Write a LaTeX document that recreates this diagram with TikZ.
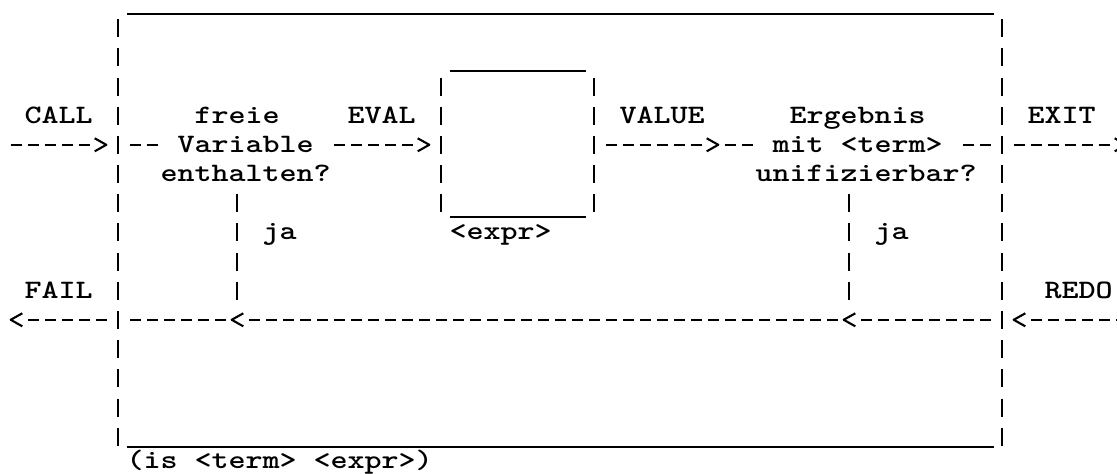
\documentclass[tikz,border=0pt]{standalone}
\usepackage{graphicx}
\usetikzlibrary{arrows.meta}

% Typewriter-style chevron tip; the shaft stops at the back of the tip
\pgfdeclarearrow{
  name = Chevron,
  parameters = {\the\pgfarrowlength,\the\pgfarrowwidth},
  setup code = {
    \pgfarrowssettipend{0pt}
    \pgfarrowssetlineend{-\pgfarrowlength}
    \pgfarrowssetbackend{-\pgfarrowlength}
    \pgfarrowshullpoint{0pt}{0pt}
    \pgfarrowsupperhullpoint{-\pgfarrowlength}{.5\pgfarrowwidth}
    \pgfarrowssavethe\pgfarrowlength
    \pgfarrowssavethe\pgfarrowwidth
  },
  drawing code = {
    \pgfsetdash{}{0pt}
    \pgfsetroundjoin
    \pgfsetbuttcap
    \pgfpathmoveto{\pgfqpoint{-\pgfarrowlength}{.5\pgfarrowwidth}}
    \pgfpathlineto{\pgfqpoint{0pt}{0pt}}
    \pgfpathlineto{\pgfqpoint{-\pgfarrowlength}{-.5\pgfarrowwidth}}
    \pgfusepathqstroke
  },
  defaults = {length = 11.6pt, width = 13pt}
}

% Monospaced text on a fixed 17pt character pitch
\newcommand\cellfont{\fontsize{26.6pt}{29pt}\selectfont\ttfamily\bfseries}
\ExplSyntaxOn
\NewDocumentCommand \tw { m }
  { \str_map_inline:nn {#1}
      { \hbox_to_wd:nn {17pt} { \hss \scalebox{1.22}[1]{##1} \hss } } }
\ExplSyntaxOff

\tikzset{
  ink/.style={line width=2.1pt, black},
  vdash/.style={ink, dash pattern=on 18pt off 11.17pt},
  hdash/.style={ink, dash pattern=on 11pt off 6pt},
  uline/.style={ink, line width=2pt},
  lbl/.style={anchor=base west, inner sep=0pt, font=\cellfont},
}

\begin{document}
\begin{tikzpicture}[x=1pt,y=-1pt]
  \fill[white] (0,0) rectangle (1117,474);
  \useasboundingbox (0,0) rectangle (1117,474);

  % ---- labels ----
  \node[lbl] (call)  at (24.5,123.3)   {\tw{CALL}};
  \node[lbl] (da)    at (194.5,123.3)  {\tw{freie}};
  \node[lbl] (eval)  at (347.5,123.3)  {\tw{EVAL}};
  \node[lbl] (value) at (619.5,123.3)  {\tw{VALUE}};
  \node[lbl] (ua)    at (789.5,123.3)  {\tw{Ergebnis}};
  \node[lbl] (exit)  at (1027.5,123.3) {\tw{EXIT}};
  \node[lbl] (db)    at (177.5,152.47) {\tw{Variable}};
  \node[lbl] (ub)    at (772.5,152.47) {\tw{mit <term>}};
  \node[lbl] (dc)    at (160.5,181.64) {\tw{enthalten?}};
  \node[lbl] (uc)    at (755.5,181.64) {\tw{unifizierbar?}};
  \node[lbl] (jaL)   at (262.5,239.98) {\tw{ja}};
  \node[lbl] (expr)  at (449.5,239.98) {\tw{<expr>}};
  \node[lbl] (jaR)   at (874.5,239.98) {\tw{ja}};
  \node[lbl] (fail)  at (24.5,298.32)  {\tw{FAIL}};
  \node[lbl] (redo)  at (1044.5,298.32) {\tw{REDO}};
  \node[lbl] (title) at (126.5,468)    {\tw{(is <term> <expr>)}};

  % ---- outer box ----
  \draw[uline] (126.5,13.5) -- (993.5,13.5);
  \draw[uline] (126.5,446.7) -- (993.5,446.7);
  \draw[vdash] (118,19.3) -- (118,445.7);
  \draw[vdash] (1002,19.3) -- (1002,445.7);

  % ---- inner box (evaluation of <expr>) ----
  \draw[uline] (449.5,71) -- (585.5,71);
  \draw[uline] (449.5,216.8) -- (585.5,216.8);
  \draw[vdash] (441,77.63) -- (441,212.31);
  \draw[vdash] (594,77.63) -- (594,212.31);

  % ---- ports and junctions ----
  \coordinate (callin)  at (10.5,144.8);
  \coordinate (oL5)     at (118,144.8);
  \coordinate (iL5)     at (441,144.8);
  \coordinate (iR5)     at (594,144.8);
  \coordinate (valtip)  at (718.3,144.8);
  \coordinate (oR5)     at (1002,144.8);
  \coordinate (exitout) at (1126.3,144.8);
  \coordinate (failout) at (10.7,319.8);
  \coordinate (oL11)    at (118,319.8);
  \coordinate (jL11)    at (237,319.8);
  \coordinate (jR11)    at (849,319.8);
  \coordinate (oR11)    at (1002,319.8);
  \coordinate (redoin)  at (1143.5,319.8);

  % ---- forward flow ----
  \draw[hdash,-{Chevron},shorten >=11.7pt] (callin) -- (oL5);
  \draw[hdash,shorten <=11.5pt,shorten >=17pt] (oL5) -- (oL5 -| db.west);
  \draw[hdash,-{Chevron},shorten <=20pt,shorten >=11.7pt] (db.east |- iL5) -- (iL5);
  \draw[hdash,-{Chevron},shorten <=11.5pt] (iR5) -- (valtip);
  \draw[hdash,shorten <=6.2pt,shorten >=17pt] (valtip) -- (valtip -| ub.west);
  \draw[hdash,shorten <=20pt,shorten >=8pt] (ub.east |- oR5) -- (oR5);
  \draw[hdash,-{Chevron},shorten <=11.5pt] (oR5) -- (exitout);

  % ---- backward flow ----
  \draw[hdash,-{Chevron},shorten >=11.7pt] (redoin) -- (oR11);
  \draw[hdash,-{Chevron},shorten <=11.5pt,shorten >=-5.3pt] (oR11) -- (jR11);
  \draw[hdash,-{Chevron},shorten <=11.5pt,shorten >=-5.3pt] (jR11) -- (jL11);
  \draw[hdash,shorten <=11.5pt,shorten >=8pt] (jL11) -- (oL11);
  \draw[hdash,-{Chevron},shorten <=11.5pt] (oL11) -- (failout);

  % ---- "ja" branches ----
  \draw[vdash,shorten <=12.67pt,shorten >=15pt] (jL11 |- dc.base) -- (jL11);
  \draw[vdash,shorten <=12.67pt,shorten >=15pt] (jR11 |- uc.base) -- (jR11);
\end{tikzpicture}
\end{document}
